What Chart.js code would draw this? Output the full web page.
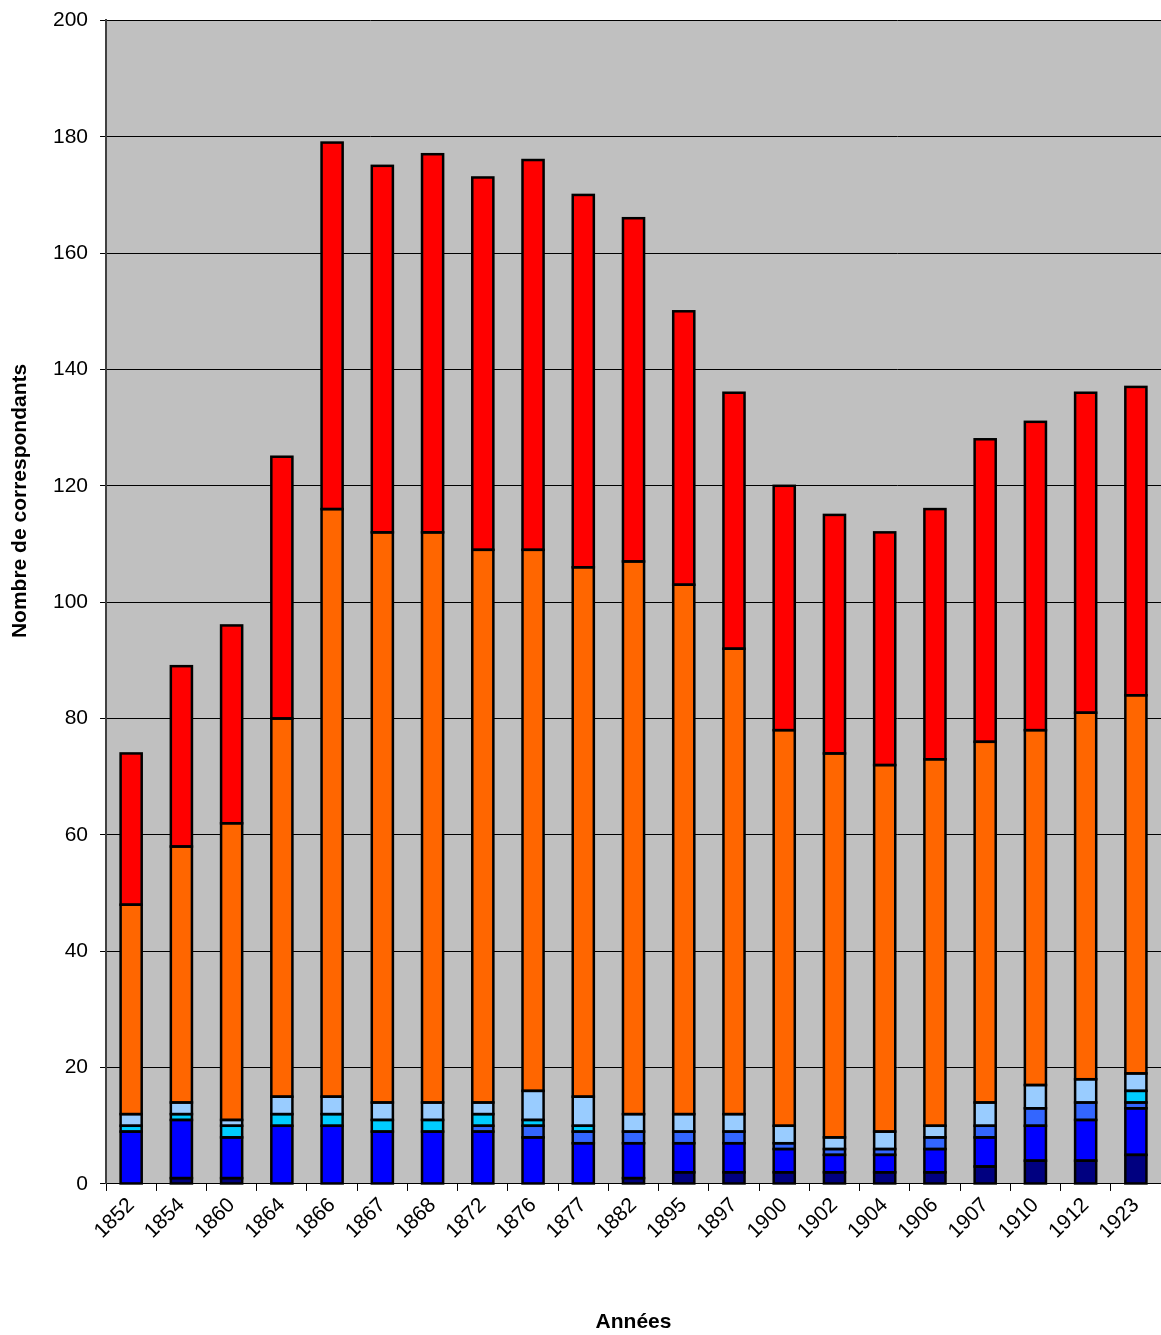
<!DOCTYPE html>
<html>
<head>
<meta charset="utf-8">
<script src="https://cdn.jsdelivr.net/npm/chart.js@4.4.1/dist/chart.umd.min.js"></script>
<style>
  html, body { margin: 0; padding: 0; background: #fff; }
  #wrap { width: 1161px; height: 1335px; }
</style>
</head>
<body>
<div id="wrap"><canvas id="chart"></canvas></div>
<script>
// years on the x axis
const years = ['1852', '1854', '1860', '1864', '1866', '1867', '1868', '1872', '1876', '1877',
  '1882', '1895', '1897', '1900', '1902', '1904', '1906', '1907', '1910', '1912', '1923'];

// stacked series, bottom to top
const navy      = [0, 1, 1, 0, 0, 0, 0, 0, 0, 0, 1, 2, 2, 2, 2, 2, 2, 3, 4, 4, 5];
const blue      = [9, 10, 7, 10, 10, 9, 9, 9, 8, 7, 6, 5, 5, 4, 3, 3, 4, 5, 6, 7, 8];
const royal     = [0, 0, 0, 0, 0, 0, 0, 1, 2, 2, 2, 2, 2, 1, 1, 1, 2, 2, 3, 3, 1];
const cyan      = [1, 1, 2, 2, 2, 2, 2, 2, 1, 1, 0, 0, 0, 0, 0, 0, 0, 0, 0, 0, 2];
const lightBlue = [2, 2, 1, 3, 3, 3, 3, 2, 5, 5, 3, 3, 3, 3, 2, 3, 2, 4, 4, 4, 3];
const orange    = [36, 44, 51, 65, 101, 98, 98, 95, 93, 91, 95, 91, 80, 68, 66, 63, 63, 62, 61, 63, 65];
const red       = [26, 31, 34, 45, 63, 63, 65, 64, 67, 64, 59, 47, 44, 42, 41, 40, 43, 52, 53, 55, 53];

const yTicks = { min: 0, max: 200, step: 20 };

const seriesList = [
  { data: navy, color: '#000080' },
  { data: blue, color: '#0000FF' },
  { data: royal, color: '#3366FF' },
  { data: cyan, color: '#00CCFF' },
  { data: lightBlue, color: '#99CCFF' },
  { data: orange, color: '#FF6600' },
  { data: red, color: '#FF0000' }
];

const FONT = '"Liberation Sans", Arial, sans-serif';

// grey plot background, Excel-like outlines and the y title
const plotBg = {
  id: 'plotBg',
  beforeDraw(chart) {
    const { ctx, chartArea: a } = chart;
    ctx.save();
    ctx.fillStyle = '#C0C0C0';
    ctx.fillRect(a.left, a.top, a.right - a.left, a.bottom - a.top);
    ctx.restore();
  },
  afterDatasetsDraw(chart) {
    const ctx = chart.ctx;
    ctx.save();
    ctx.strokeStyle = '#000';
    ctx.lineWidth = 2.5;
    chart.data.datasets.forEach((ds, i) => {
      chart.getDatasetMeta(i).data.forEach((bar, j) => {
        if (ds.data[j] == null) return;
        const { x, y, base, width } = bar.getProps(['x', 'y', 'base', 'width'], true);
        ctx.strokeRect(x - width / 2, Math.min(y, base), width, Math.abs(base - y));
      });
    });
    ctx.restore();
  },
  afterDraw(chart) {
    const { ctx, chartArea: a } = chart;
    ctx.save();
    ctx.translate(20, a.top + (a.bottom - a.top) * 0.413);
    ctx.rotate(-Math.PI / 2);
    ctx.font = 'bold 21px ' + FONT;
    ctx.fillStyle = '#000';
    ctx.textAlign = 'center';
    ctx.textBaseline = 'middle';
    ctx.fillText('Nombre de correspondants', 0, 0);
    ctx.restore();
  }
};

new Chart(document.getElementById('chart'), {
  type: 'bar',
  data: {
    labels: years,
    datasets: seriesList.map(s => ({
      data: s.data.map(v => v === 0 ? null : v),
      backgroundColor: s.color,
      borderWidth: 0,
      categoryPercentage: 1,
      barPercentage: 0.42
    }))
  },
  options: {
    responsive: true,
    maintainAspectRatio: false,
    animation: false,
    layout: { padding: { left: 41, right: 0, top: 8, bottom: 0 } },
    plugins: {
      legend: { display: false },
      tooltip: { enabled: false }
    },
    scales: {
      x: {
        stacked: true,
        grid: { drawOnChartArea: false, color: '#000', tickLength: 7, offset: true },
        border: { color: '#000', width: 1 },
        ticks: {
          color: '#000', font: { family: FONT, size: 21 },
          minRotation: 45, maxRotation: 45, padding: 2
        },
        title: {
          display: true, text: 'Années', color: '#000',
          font: { family: FONT, size: 21, weight: 'bold' },
          padding: { top: 64, bottom: 0 }
        }
      },
      y: {
        stacked: true,
        min: yTicks.min, max: yTicks.max,
        grid: { color: '#000', lineWidth: 1, tickLength: 6 },
        border: { color: '#404040', width: 2 },
        ticks: {
          stepSize: yTicks.step, color: '#000',
          font: { family: FONT, size: 21, lineHeight: 0.8 }, padding: 12
        }
      }
    }
  },
  plugins: [plotBg]
});
</script>
</body>
</html>
